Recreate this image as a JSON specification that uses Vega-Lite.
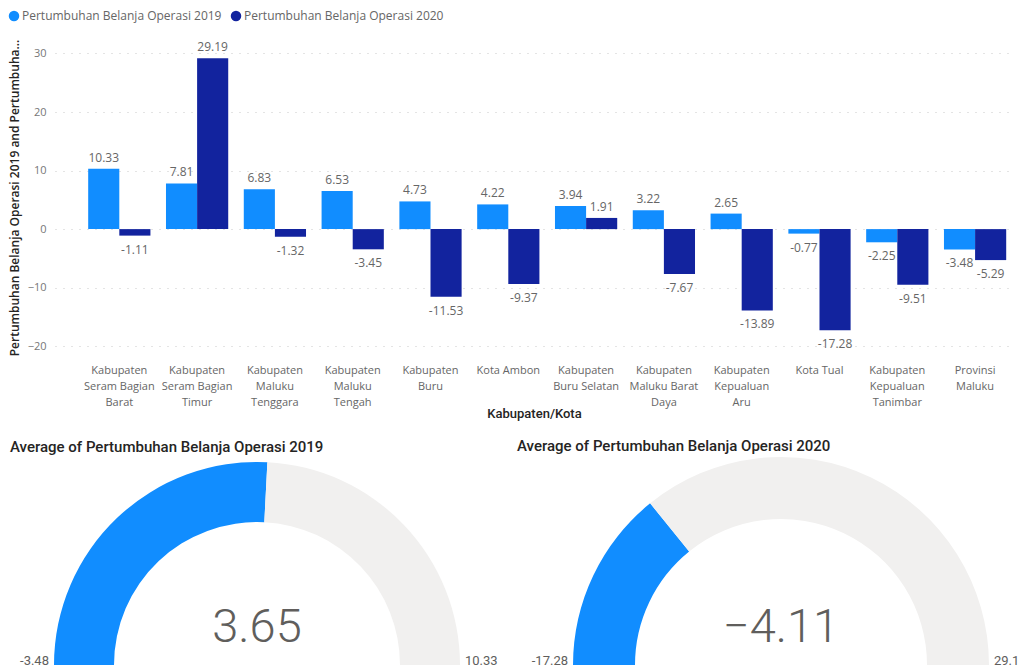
{
  "$schema": "https://vega.github.io/schema/vega-lite/v6.json",
  "padding": {"left": 8, "top": 10, "right": 0, "bottom": 0},
  "background": "white",
  "config": {"view": {"stroke": null}, "font": "Open Sans"},
  "resolve": {"scale": {"color": "independent", "theta": "independent"}, "legend": {"color": "independent"}},
  "spacing": 19,
  "vconcat": [
    {
      "width": 958,
      "height": 315,
      "data": {"values": [
        {"region": "Kabupaten Seram Bagian Barat", "series": "Pertumbuhan Belanja Operasi 2019", "value": 10.33},
        {"region": "Kabupaten Seram Bagian Barat", "series": "Pertumbuhan Belanja Operasi 2020", "value": -1.11},
        {"region": "Kabupaten Seram Bagian Timur", "series": "Pertumbuhan Belanja Operasi 2019", "value": 7.81},
        {"region": "Kabupaten Seram Bagian Timur", "series": "Pertumbuhan Belanja Operasi 2020", "value": 29.19},
        {"region": "Kabupaten Maluku Tenggara", "series": "Pertumbuhan Belanja Operasi 2019", "value": 6.83},
        {"region": "Kabupaten Maluku Tenggara", "series": "Pertumbuhan Belanja Operasi 2020", "value": -1.32},
        {"region": "Kabupaten Maluku Tengah", "series": "Pertumbuhan Belanja Operasi 2019", "value": 6.53},
        {"region": "Kabupaten Maluku Tengah", "series": "Pertumbuhan Belanja Operasi 2020", "value": -3.45},
        {"region": "Kabupaten Buru", "series": "Pertumbuhan Belanja Operasi 2019", "value": 4.73},
        {"region": "Kabupaten Buru", "series": "Pertumbuhan Belanja Operasi 2020", "value": -11.53},
        {"region": "Kota Ambon", "series": "Pertumbuhan Belanja Operasi 2019", "value": 4.22},
        {"region": "Kota Ambon", "series": "Pertumbuhan Belanja Operasi 2020", "value": -9.37},
        {"region": "Kabupaten Buru Selatan", "series": "Pertumbuhan Belanja Operasi 2019", "value": 3.94},
        {"region": "Kabupaten Buru Selatan", "series": "Pertumbuhan Belanja Operasi 2020", "value": 1.91},
        {"region": "Kabupaten Maluku Barat Daya", "series": "Pertumbuhan Belanja Operasi 2019", "value": 3.22},
        {"region": "Kabupaten Maluku Barat Daya", "series": "Pertumbuhan Belanja Operasi 2020", "value": -7.67},
        {"region": "Kabupaten Kepualuan Aru", "series": "Pertumbuhan Belanja Operasi 2019", "value": 2.65},
        {"region": "Kabupaten Kepualuan Aru", "series": "Pertumbuhan Belanja Operasi 2020", "value": -13.89},
        {"region": "Kota Tual", "series": "Pertumbuhan Belanja Operasi 2019", "value": -0.77},
        {"region": "Kota Tual", "series": "Pertumbuhan Belanja Operasi 2020", "value": -17.28},
        {"region": "Kabupaten Kepualuan Tanimbar", "series": "Pertumbuhan Belanja Operasi 2019", "value": -2.25},
        {"region": "Kabupaten Kepualuan Tanimbar", "series": "Pertumbuhan Belanja Operasi 2020", "value": -9.51},
        {"region": "Provinsi Maluku", "series": "Pertumbuhan Belanja Operasi 2019", "value": -3.48},
        {"region": "Provinsi Maluku", "series": "Pertumbuhan Belanja Operasi 2020", "value": -5.29}
      ]},
      "encoding": {
        "x": {
          "field": "region", "type": "nominal", "sort": null,
          "scale": {"paddingInner": 0.2, "paddingOuter": 0.257, "align": 0.83},
          "axis": {
            "title": "Kabupaten/Kota", "labelAngle": 0, "labelLimit": 0,
            "labelExpr": "slice(split(replace(datum.label, regexp('(.{1,12})( |$)', 'g'), '$1|'), '|'), 0, -1)",
            "labelColor": "#666666", "labelFontSize": 11, "labelLineHeight": 16, "labelPadding": 9,
            "labelBaseline": "top",
            "ticks": false, "domain": false,
            "titleFont": "Roboto", "titleFontWeight": 500, "titleFontSize": 13, "titleColor": "#252423", "titlePadding": 0
          }
        },
        "xOffset": {"field": "series", "type": "nominal"},
        "y": {
          "field": "value", "type": "quantitative",
          "scale": {"domain": [-21.5, 32.3], "nice": false, "zero": false},
          "axis": {
            "values": [-20, -10, 0, 10, 20, 30],
            "title": "Pertumbuhan Belanja Operasi 2019 and Pertumbuhan Belanja Operasi 2020",
            "titleLimit": 318, "titleColor": "#252423", "titleFontSize": 12, "titleFontWeight": 600, "titlePadding": 6,
            "labelColor": "#777777", "labelFontSize": 11, "labelPadding": 9,
            "ticks": false, "domain": false,
            "grid": true, "gridDash": [1, 7], "gridColor": "#c8c8c8"
          }
        }
      },
      "layer": [
        {
          "mark": {"type": "bar"},
          "encoding": {
            "color": {
              "field": "series", "type": "nominal",
              "scale": {"range": ["#118DFF", "#12239E"]},
              "legend": {
                "orient": "none", "legendX": -47, "legendY": -30, "direction": "horizontal",
                "title": null, "symbolType": "circle", "symbolSize": 110, "labelLimit": 0,
                "labelFontSize": 12, "labelColor": "#666666", "columnPadding": 8, "labelOffset": 2
              }
            }
          }
        },
        {
          "transform": [{"filter": "datum.value >= 0"}],
          "mark": {"type": "text", "baseline": "bottom", "dy": -4, "color": "#666666", "fontSize": 12},
          "encoding": {"text": {"field": "value", "type": "nominal"}}
        },
        {
          "transform": [{"filter": "datum.value < 0"}],
          "mark": {"type": "text", "baseline": "top", "dy": 9, "color": "#666666", "fontSize": 12},
          "encoding": {"text": {"field": "value", "type": "nominal"}}
        }
      ]
    },
    {
      "spacing": 19,
      "resolve": {"scale": {"color": "independent", "theta": "independent"}},
      "hconcat": [
        {
          "width": 404,
          "height": 207,
          "title": {"text": "Average of Pertumbuhan Belanja Operasi 2019", "anchor": "start", "frame": "group", "dx": -45, "font": "Roboto", "fontSize": 15, "fontWeight": 500, "color": "#252423", "offset": 3},
          "layer": [
            {
              "data": {"values": [{"part": "value", "start": -3.48, "end": 3.65}, {"part": "rest", "start": 3.65, "end": 10.33}]},
              "mark": {"type": "arc", "radius": 203, "radius2": 143, "y": "height"},
              "encoding": {
                "theta": {"field": "start", "type": "quantitative", "stack": null, "scale": {"domain": [-3.48, 10.33], "range": [-1.5708, 1.5708]}},
                "theta2": {"field": "end"},
                "color": {"field": "part", "type": "nominal", "scale": {"domain": ["value", "rest"], "range": ["#118DFF", "#F1F0EF"]}, "legend": null}
              }
            },
            {
              "data": {"values": [{"which": "min", "pos": -3.48}]},
              "mark": {"type": "text", "radius": 208, "align": "right", "baseline": "bottom", "dy": 3, "y": "height", "font": "Roboto", "fontSize": 13, "color": "#605E5C"},
              "encoding": {
                "theta": {"field": "pos", "type": "quantitative", "scale": {"domain": [-3.48, 10.33], "range": [-1.5708, 1.5708]}},
                "text": {"field": "pos", "type": "nominal"}
              }
            },
            {
              "data": {"values": [{"which": "max", "pos": 10.33}]},
              "mark": {"type": "text", "radius": 208, "align": "left", "baseline": "bottom", "dy": 3, "y": "height", "font": "Roboto", "fontSize": 13, "color": "#605E5C"},
              "encoding": {
                "theta": {"field": "pos", "type": "quantitative", "scale": {"domain": [-3.48, 10.33], "range": [-1.5708, 1.5708]}},
                "text": {"field": "pos", "type": "nominal"}
              }
            },
            {
              "data": {"values": [{"avg": 3.65}]},
              "mark": {"type": "text", "y": "height", "dy": -23, "baseline": "alphabetic", "align": "center", "font": "Roboto", "fontWeight": 300, "fontSize": 47, "color": "#605E5C"},
              "encoding": {"text": {"field": "avg", "type": "quantitative", "format": ".2f"}}
            }
          ]
        },
        {
          "width": 476,
          "height": 207,
          "title": {"text": "Average of Pertumbuhan Belanja Operasi 2020", "anchor": "start", "frame": "group", "dx": -26, "font": "Roboto", "fontSize": 15, "fontWeight": 500, "color": "#252423", "offset": 3},
          "layer": [
            {
              "data": {"values": [{"part": "value", "start": -17.28, "end": -4.11}, {"part": "rest", "start": -4.11, "end": 29.19}]},
              "mark": {"type": "arc", "radius": 208, "radius2": 146, "y": "height"},
              "encoding": {
                "theta": {"field": "start", "type": "quantitative", "stack": null, "scale": {"domain": [-17.28, 29.19], "range": [-1.5708, 1.5708]}},
                "theta2": {"field": "end"},
                "color": {"field": "part", "type": "nominal", "scale": {"domain": ["value", "rest"], "range": ["#118DFF", "#F1F0EF"]}, "legend": null}
              }
            },
            {
              "data": {"values": [{"which": "min", "pos": -17.28}]},
              "mark": {"type": "text", "radius": 213, "align": "right", "baseline": "bottom", "dy": 3, "y": "height", "font": "Roboto", "fontSize": 13, "color": "#605E5C"},
              "encoding": {
                "theta": {"field": "pos", "type": "quantitative", "scale": {"domain": [-17.28, 29.19], "range": [-1.5708, 1.5708]}},
                "text": {"field": "pos", "type": "nominal"}
              }
            },
            {
              "data": {"values": [{"which": "max", "pos": 29.19}]},
              "mark": {"type": "text", "radius": 213, "align": "left", "baseline": "bottom", "dy": 3, "clip": true, "y": "height", "font": "Roboto", "fontSize": 13, "color": "#605E5C"},
              "encoding": {
                "theta": {"field": "pos", "type": "quantitative", "scale": {"domain": [-17.28, 29.19], "range": [-1.5708, 1.5708]}},
                "text": {"field": "pos", "type": "nominal"}
              }
            },
            {
              "data": {"values": [{"avg": -4.11}]},
              "mark": {"type": "text", "y": "height", "dy": -23, "baseline": "alphabetic", "align": "center", "font": "Roboto", "fontWeight": 300, "fontSize": 47, "color": "#605E5C"},
              "encoding": {"text": {"field": "avg", "type": "quantitative", "format": ".2f"}}
            }
          ]
        }
      ]
    }
  ]
}
